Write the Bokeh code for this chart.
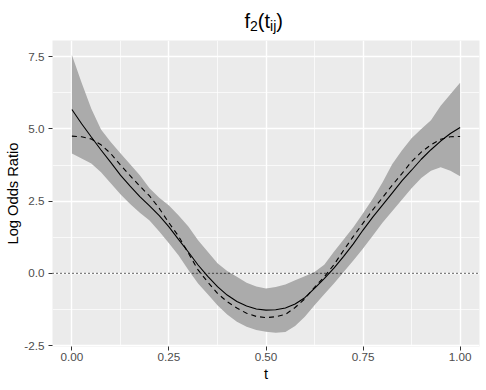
from bokeh.plotting import figure
from bokeh.models import Span, FixedTicker, Range1d, Div
from bokeh.layouts import column
from bokeh.embed import file_html
from bokeh.resources import INLINE

# ---- data ----
t = [0.0, 0.025, 0.05, 0.075, 0.1, 0.125, 0.15, 0.175, 0.2, 0.225,
     0.25, 0.275, 0.3, 0.325, 0.35, 0.375, 0.4, 0.425, 0.45, 0.475,
     0.5, 0.525, 0.55, 0.575, 0.6, 0.625, 0.65, 0.675, 0.7, 0.725,
     0.75, 0.775, 0.8, 0.825, 0.85, 0.875, 0.9, 0.925, 0.95, 0.975, 1.0]

estimate = [5.67, 5.18, 4.72, 4.27, 3.84, 3.40, 3.02, 2.66, 2.34, 2.00,
            1.61, 1.17, 0.74, 0.29, -0.10, -0.46, -0.75, -0.97, -1.13, -1.23,
            -1.27, -1.26, -1.20, -1.06, -0.84, -0.52, -0.18, 0.18, 0.59, 1.02,
            1.50, 1.95, 2.36, 2.78, 3.20, 3.57, 3.95, 4.28, 4.58, 4.84, 5.05]

truth = [4.75, 4.73, 4.65, 4.45, 4.15, 3.75, 3.38, 3.02, 2.68, 2.25,
         1.75, 1.28, 0.70, 0.12, -0.30, -0.69, -0.98, -1.20, -1.38, -1.49,
         -1.53, -1.50, -1.42, -1.18, -0.88, -0.48, -0.12, 0.30, 0.80, 1.28,
         1.74, 2.20, 2.62, 3.05, 3.45, 3.87, 4.20, 4.45, 4.64, 4.73, 4.74]

upper = [7.56, 6.60, 5.70, 4.98, 4.55, 4.16, 3.78, 3.40, 2.95, 2.62,
         2.35, 2.00, 1.62, 1.15, 0.75, 0.35, 0.08, -0.12, -0.32, -0.45,
         -0.52, -0.47, -0.38, -0.24, -0.10, 0.05, 0.30, 0.75, 1.17, 1.60,
         2.08, 2.58, 3.15, 3.78, 4.25, 4.68, 5.00, 5.30, 5.80, 6.20, 6.60]

lower = [4.15, 3.98, 3.80, 3.50, 3.12, 2.74, 2.40, 2.10, 1.83, 1.45,
         1.04, 0.62, 0.12, -0.35, -0.72, -1.10, -1.42, -1.67, -1.85, -1.96,
         -2.02, -2.05, -2.03, -1.82, -1.50, -1.10, -0.72, -0.35, 0.05, 0.45,
         0.86, 1.30, 1.75, 2.15, 2.55, 2.95, 3.30, 3.55, 3.67, 3.55, 3.36]

x_ticks = [0.0, 0.25, 0.5, 0.75, 1.0]
x_tick_labels = ["0.00", "0.25", "0.50", "0.75", "1.00"]
x_minor = [0.125, 0.375, 0.625, 0.875]
y_ticks = [-2.5, 0.0, 2.5, 5.0, 7.5]
y_tick_labels = ["-2.5", "0.0", "2.5", "5.0", "7.5"]
y_minor = [-1.25, 1.25, 3.75, 6.25]
reference_line = 0.0

FONT = "Liberation Sans"

p = figure(width=486, height=349, title=None, output_backend="svg",
           toolbar_location=None,
           x_range=Range1d(-0.05, 1.05), y_range=Range1d(-2.53, 8.06),
           min_border_left=52, min_border_right=7, min_border_top=0,
           min_border_bottom=43, margin=(0, 0, 0, 0))
p.background_fill_color = "#EBEBEB"
p.border_fill_color = "white"
p.outline_line_color = None

xt = FixedTicker(ticks=x_ticks, minor_ticks=x_minor)
yt = FixedTicker(ticks=y_ticks, minor_ticks=y_minor)
p.xaxis.ticker = xt
p.yaxis.ticker = yt
p.xgrid.ticker = xt
p.ygrid.ticker = yt
for g in (p.xgrid, p.ygrid):
    g.grid_line_color = "white"
    g.grid_line_width = 1.4
    g.minor_grid_line_color = "white"
    g.minor_grid_line_width = 0.7

p.xaxis.major_label_overrides = {v: s for v, s in zip(x_ticks, x_tick_labels)}
p.yaxis.major_label_overrides = {v: s for v, s in zip(y_ticks, y_tick_labels)}

for ax in (p.xaxis, p.yaxis):
    ax.axis_line_color = None
    ax.major_tick_in = 0
    ax.major_tick_out = 4
    ax.major_tick_line_color = "#333333"
    ax.major_tick_line_width = 1
    ax.minor_tick_line_color = None
    ax.major_label_text_font = FONT
    ax.major_label_text_font_size = "11.7px"
    ax.major_label_text_color = "#4D4D4D"
    ax.axis_label_text_font = FONT
    ax.axis_label_text_font_size = "14.7px"
    ax.axis_label_text_font_style = "normal"
    ax.axis_label_text_color = "black"

p.xaxis.axis_label = "t"
p.yaxis.axis_label = "Log Odds Ratio"
p.xaxis.major_label_standoff = 2
p.xaxis.axis_label_standoff = 2
p.yaxis.major_label_standoff = 4
p.yaxis.axis_label_standoff = 0

# ribbon
p.varea(x=t, y1=lower, y2=upper, fill_color="#ABABAB")
# zero reference
p.add_layout(Span(location=reference_line, dimension="width", line_color="black",
                  line_width=1.2, line_dash="1 3"))
# curves
p.line(t, truth, line_color="black", line_width=1.1, line_dash="5 4")
p.line(t, estimate, line_color="black", line_width=1.1)

# title  f_2(t_ij) as real text with subscripts
sub = "font-size:14px; vertical-align:-2.6px; line-height:0"
title_html = (
    '<div style="margin-left:244.5px; margin-top:11px; line-height:20px; '
    'font-family:\'Liberation Sans\', Arial, sans-serif; font-size:20px; '
    'color:black; white-space:nowrap">'
    f'f<sub style="{sub}">2</sub>(t<sub style="{sub}">ij</sub>)</div>'
)
title = Div(text=title_html, width=486, height=40, margin=(0, 0, 0, 0))

layout = column(title, p, spacing=0, margin=(0, 0, 0, 0))
open("out.html", "w").write(file_html(layout, INLINE))
